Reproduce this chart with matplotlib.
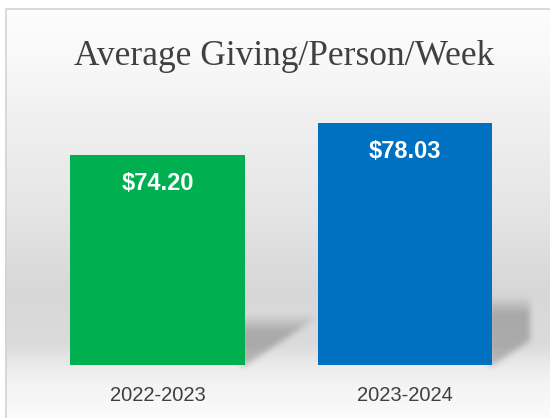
import numpy as np
import matplotlib
matplotlib.use('Agg')
import matplotlib.pyplot as plt
from matplotlib.lines import Line2D

# data
seasons = ['2022-2023', '2023-2024']
giving = [74.20, 78.03]
bar_colors = ['#00B050', '#0070C0']
title = 'Average Giving/Person/Week'

# shadow look (pixels): width to the right of bar, height above floor
shadow_w = [70, 37]
shadow_h = [52, 70]

W, H = 550, 418
fig = plt.figure(figsize=(W / 100, H / 100), dpi=100)
fig.patch.set_facecolor('white')

# bar axes
ax = fig.add_axes([33.75 / W, 53 / H, 495 / W, 265 / H])
ax.set_facecolor('none')
x = np.arange(len(seasons))
bars = ax.bar(x, giving, width=0.707, color=bar_colors, zorder=3)
ax.set_xlim(-0.5, 1.5)
ax.set_ylim(49.3, 80.73)
ax.set_xticks(x)
ax.set_xticklabels(seasons, fontsize=14.5, color='#404040', family='Liberation Sans')
ax.tick_params(axis='x', length=0, pad=15)
ax.set_yticks([])
for s in ax.spines.values():
    s.set_visible(False)

for xi, v in zip(x, giving):
    ax.annotate('$%.2f' % v, (xi, v), xytext=(0, -28.5), textcoords='offset pixels',
                ha='center', va='center', color='white', fontsize=17,
                fontweight='bold', family='Liberation Sans', zorder=4)

# background: vertical gradient + bar shadows
stops_y = [8, 60, 120, 200, 290, 345, 365, 380, 418]
stops_g = [0.99, 0.975, 0.94, 0.905, 0.845, 0.86, 0.92, 0.95, 0.985]
yy = np.arange(H)
col = np.interp(yy, stops_y, stops_g)
img = np.repeat(col[:, None], W, axis=1)

fig.canvas.draw()
shadow = np.zeros((H, W))
X, Y = np.meshgrid(np.arange(W), np.arange(H))
B = H - ax.transData.transform((0, ax.get_ylim()[0]))[1]
for b, sw, sh in zip(bars, shadow_w, shadow_h):
    R = ax.transData.transform((b.get_x() + b.get_width(), 0))[0]
    inside = (X >= R - 4) & (X <= R + sw) & (Y >= B - sh) & (Y <= B)
    inside &= (B - Y) >= (X - R) * 0.67
    ramp = np.clip((Y - (B - sh)) / 18.0, 0, 1)
    shadow = np.maximum(shadow, inside * ramp)


def blur(a, k):
    pad = np.pad(a, k, mode='edge')
    c = np.cumsum(pad, axis=1)
    c = np.pad(c, ((0, 0), (1, 0)))
    a = (c[:, 2 * k + 1:] - c[:, :-2 * k - 1]) / (2 * k + 1)
    c = np.cumsum(a, axis=0)
    c = np.pad(c, ((1, 0), (0, 0)))
    a = (c[2 * k + 1:, :] - c[:-2 * k - 1, :]) / (2 * k + 1)
    return a


shadow = blur(blur(shadow, 3), 3)
img = img - 0.19 * shadow
img[:8, :] = 1.0
img[:, :5] = 1.0
rgb = np.dstack([img, img, img])

bg = fig.add_axes([0, 0, 1, 1], zorder=-1)
bg.imshow(rgb, extent=[0, W, H, 0], aspect='auto', interpolation='bilinear')
bg.set_xlim(0, W)
bg.set_ylim(H, 0)
bg.axis('off')

# border
fig.add_artist(Line2D([5.5 / W, 5.5 / W, 1], [0, 1 - 8.5 / H, 1 - 8.5 / H],
                      transform=fig.transFigure, color='#d4d4d4', lw=1.2))

fig.text(284 / W, 1 - 65 / H, title, ha='center', va='baseline', fontsize=25.5,
         family='Liberation Serif', color='#404040')

fig.savefig('out.png', dpi=100)
